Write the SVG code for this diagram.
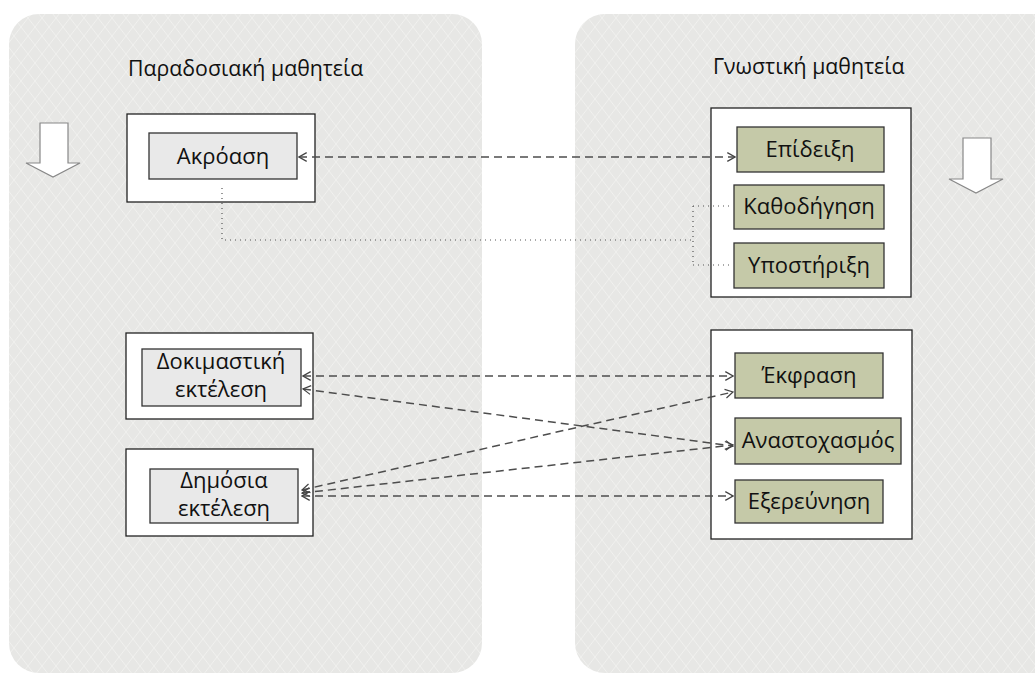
<svg xmlns="http://www.w3.org/2000/svg" width="1035" height="675" viewBox="0 0 1035 675">
<defs>
<pattern id="hatch" width="14" height="18" patternUnits="userSpaceOnUse">
<rect width="14" height="18" fill="#e7e7e5"/>
<path d="M0,0 L14,18 M14,0 L0,18" stroke="#f1f1ef" stroke-width="1"/>
</pattern>
<marker id="arr" viewBox="0 0 10 10" refX="9" refY="5" markerWidth="11" markerHeight="11" markerUnits="userSpaceOnUse" orient="auto-start-reverse">
<path d="M2,1 L9,5 L2,9" fill="none" stroke="#444" stroke-width="1.1"/>
</marker>
<style>
.panel{fill:url(#hatch)}
.outer{fill:#ffffff;stroke:#222;stroke-width:1.3}
.gray{fill:#e9e9e9;stroke:#333;stroke-width:1.3}
.olive{fill:#c5c9a8;stroke:#333;stroke-width:1.3}
.t{font-family:"Open Sans","DejaVu Sans",sans-serif;font-size:22px;fill:#111;text-anchor:middle}
.title{font-family:"Open Sans","DejaVu Sans",sans-serif;font-size:21.3px;fill:#111}
.dash{fill:none;stroke:#4d4d4d;stroke-width:1.5;stroke-dasharray:8 5;marker-start:url(#arr);marker-end:url(#arr)}
.dot{fill:none;stroke:#555;stroke-width:1.2;stroke-dasharray:1 4}
.darr{fill:#ffffff;stroke:#888;stroke-width:1.2}
</style>
</defs>
<rect width="1035" height="675" fill="#ffffff"/>
<g id="panel-left">
<rect class="panel" x="9" y="14" width="473" height="659" rx="30"/>
<text class="title" x="128" y="76">Παραδοσιακή μαθητεία</text>
<path class="darr" d="M40,123 L68,123 L68,163 L80,163 L53,177 L26,163 L40,163 Z"/>
</g>
<g id="panel-right">
<rect class="panel" x="575" y="14" width="500" height="659" rx="30"/>
<text class="title" x="713" y="74">Γνωστική μαθητεία</text>
<path class="darr" d="M963,138 L991,138 L991,179 L1003,179 L976,193 L949,179 L963,179 Z"/>
</g>
<g id="node-akroasi">
<rect class="outer" x="127" y="114" width="188" height="88"/>
<rect class="gray" x="149" y="133" width="148" height="46"/>
<text class="t" x="223" y="164">Ακρόαση</text>
</g>
<g id="node-dokimastiki">
<rect class="outer" x="126" y="333" width="187" height="86"/>
<rect class="gray" x="142" y="349" width="159" height="57"/>
<text class="t" x="221" y="369">Δοκιμαστική</text>
<text class="t" x="221" y="397">εκτέλεση</text>
</g>
<g id="node-dimosia">
<rect class="outer" x="126" y="449" width="187" height="87"/>
<rect class="gray" x="150" y="469" width="148" height="54"/>
<text class="t" x="224" y="488">Δημόσια</text>
<text class="t" x="224" y="516">εκτέλεση</text>
</g>
<g id="group-upper">
<rect class="outer" x="711" y="108" width="200" height="189"/>
</g>
<g id="node-epideixi">
<rect class="olive" x="737" y="127" width="147" height="45"/>
<text class="t" x="810" y="157">Επίδειξη</text>
</g>
<g id="node-kathodigisi">
<rect class="olive" x="734" y="185" width="150" height="44"/>
<text class="t" x="809" y="214">Καθοδήγηση</text>
</g>
<g id="node-ypostirixi">
<rect class="olive" x="734" y="243" width="150" height="45"/>
<text class="t" x="809" y="273">Υποστήριξη</text>
</g>
<g id="group-lower">
<rect class="outer" x="711" y="330" width="201" height="209"/>
</g>
<g id="node-ekfrasi">
<rect class="olive" x="735" y="353" width="148" height="45"/>
<text class="t" x="809" y="383">Έκφραση</text>
</g>
<g id="node-anastoxasmos">
<rect class="olive" x="735" y="418" width="166" height="46"/>
<text class="t" x="818" y="448">Αναστοχασμός</text>
</g>
<g id="node-exerevnisi">
<rect class="olive" x="735" y="480" width="148" height="43"/>
<text class="t" x="809" y="509">Εξερεύνηση</text>
</g>
<g id="connectors">
<path class="dot" d="M222,188 L222,240 L693,240 M693,206 L693,265 M693,206 L733,206 M693,265 L733,265"/>
<path class="dash" d="M299,157 L735,157"/>
<path class="dash" d="M303,376 L733,376"/>
<path class="dash" d="M303,389 L733,446"/>
<path class="dash" d="M302,490 L733,392"/>
<path class="dash" d="M302,493 L733,445"/>
<path class="dash" d="M302,496 L733,496"/>
</g>
</svg>
